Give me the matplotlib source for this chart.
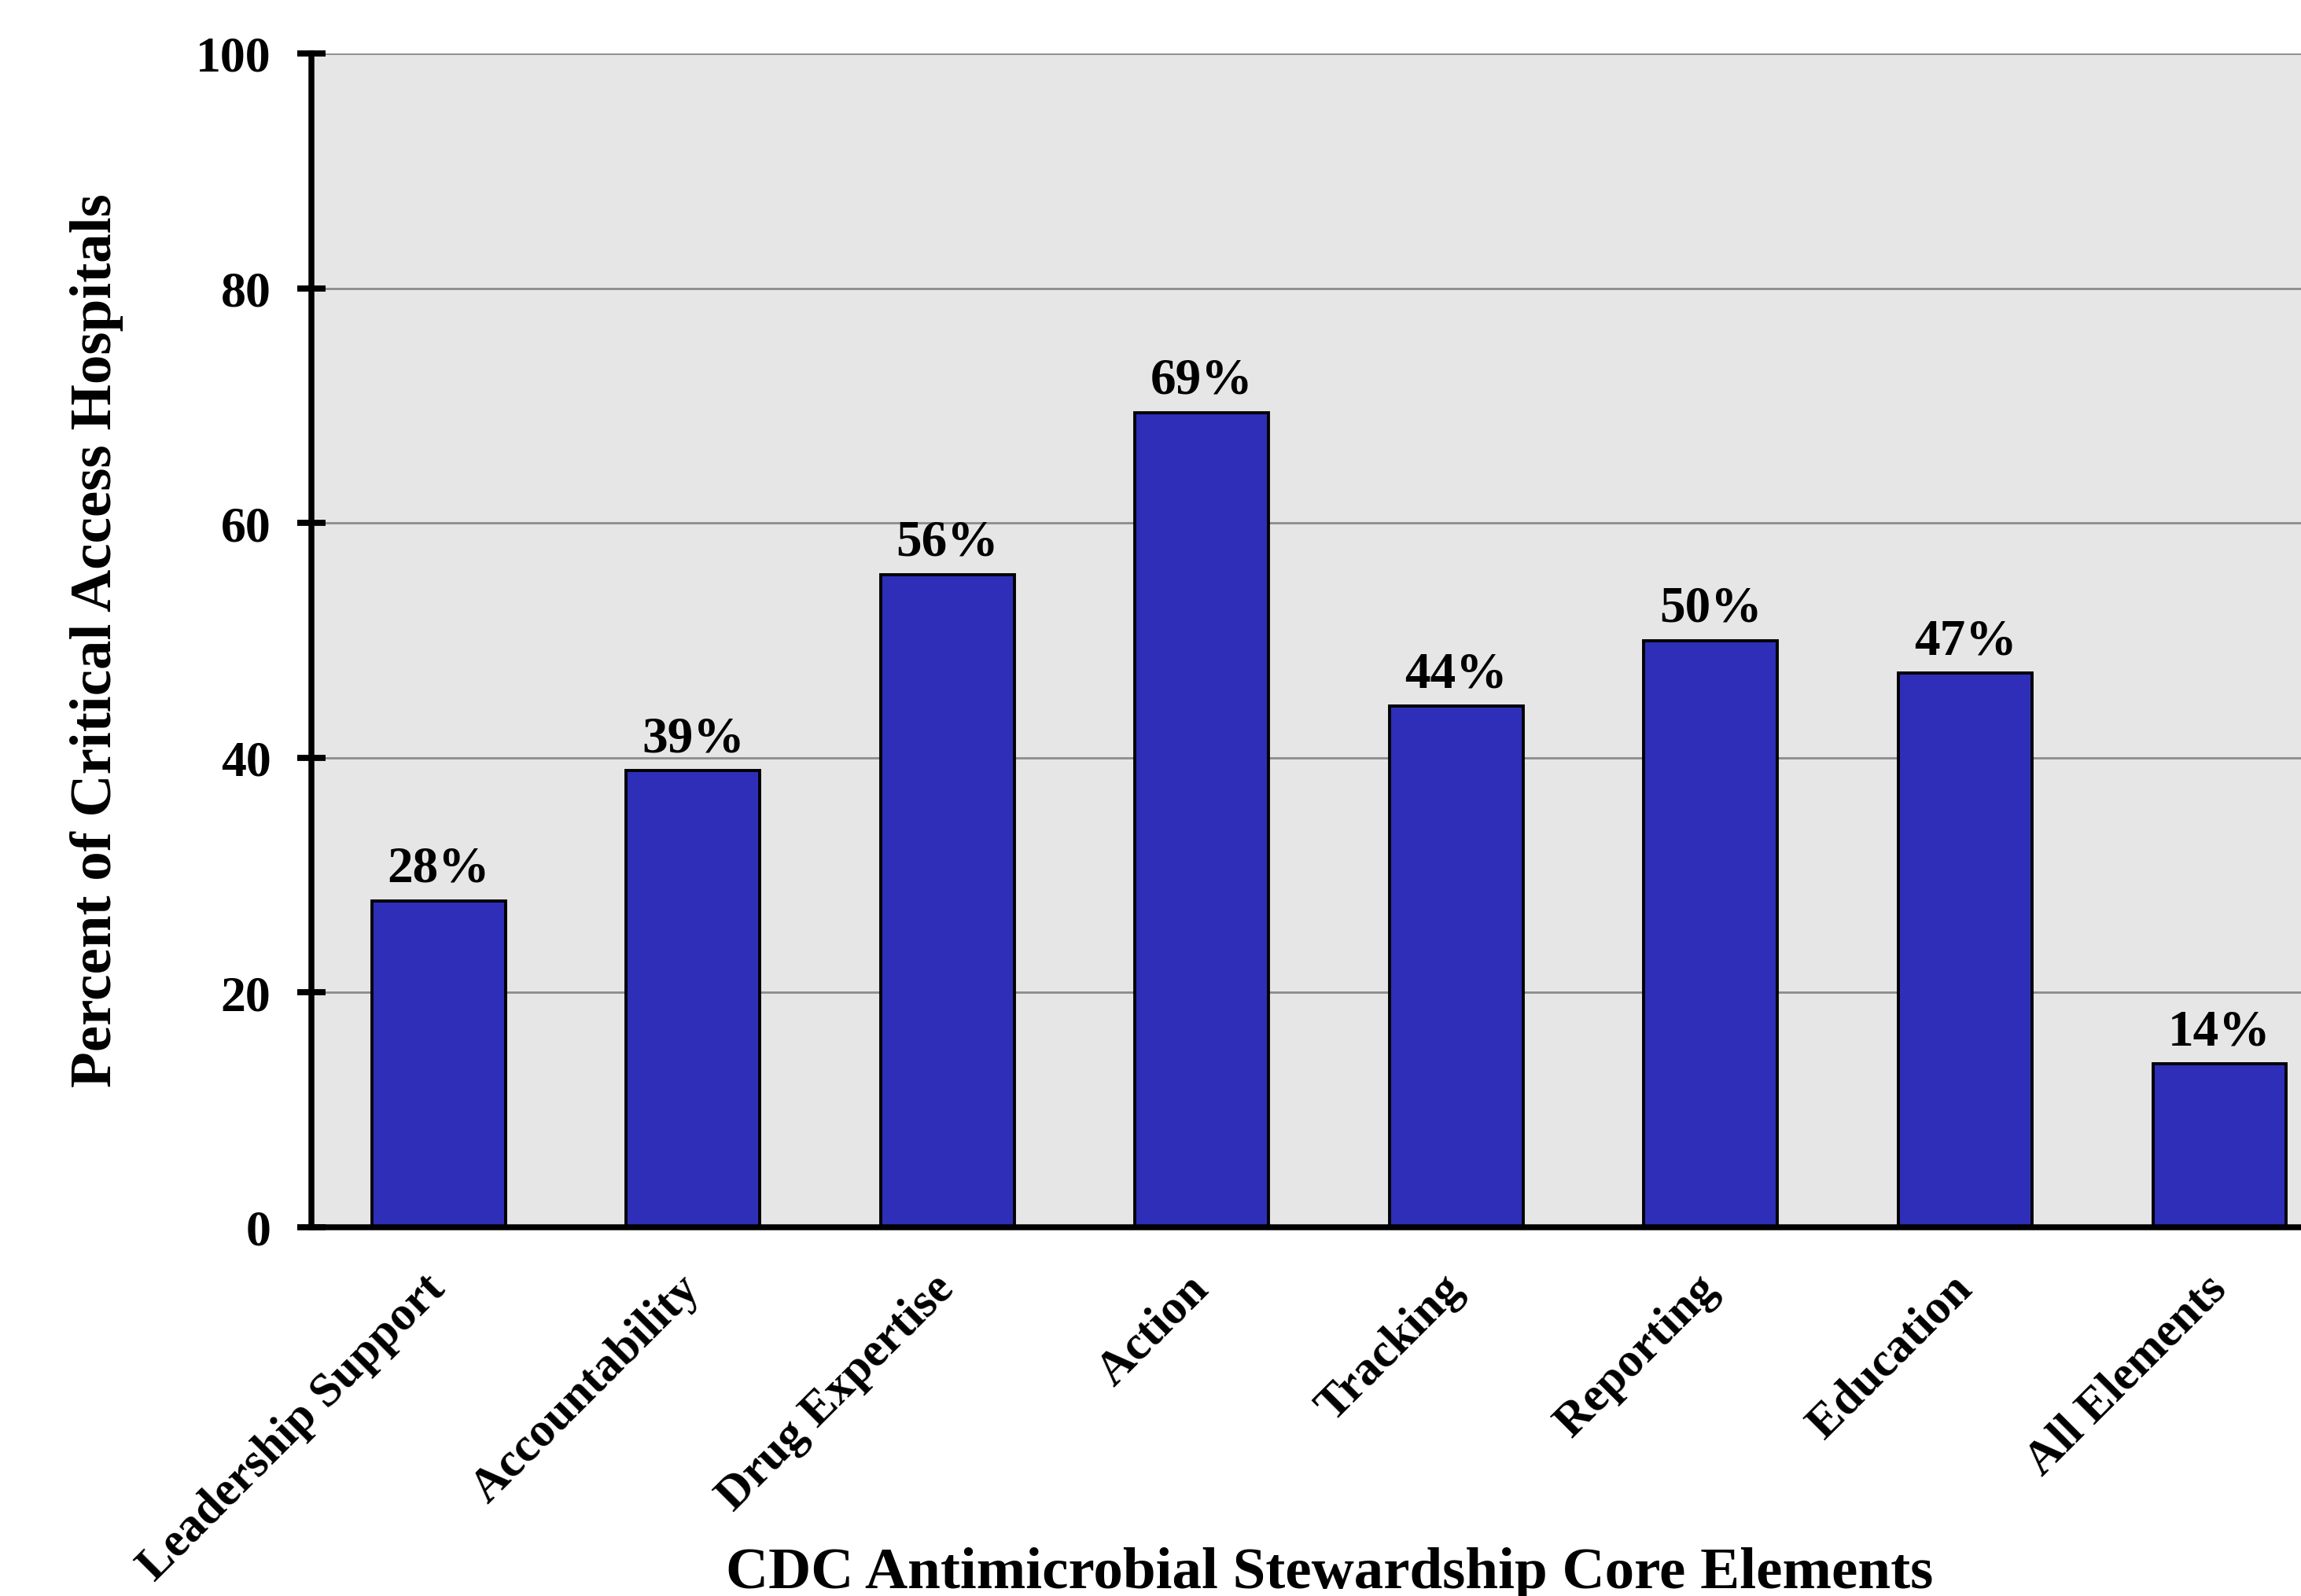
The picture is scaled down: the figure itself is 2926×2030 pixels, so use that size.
import matplotlib
matplotlib.use("Agg")
import matplotlib.pyplot as plt

categories = ["Leadership Support", "Accountability", "Drug Expertise", "Action",
              "Tracking", "Reporting", "Education", "All Elements"]
values = [27.8, 38.9, 55.6, 69.4, 44.4, 50.0, 47.2, 13.9]
labels = ["28%", "39%", "56%", "69%", "44%", "50%", "47%", "14%"]
yticks = [0, 20, 40, 60, 80, 100]

plt.rcParams['font.family'] = ['Liberation Serif', 'DejaVu Serif']
plt.rcParams['font.weight'] = 'bold'

W, H, DPI = 2926, 2031, 200
fig = plt.figure(figsize=(W / DPI, H / DPI), dpi=DPI)
ax = fig.add_axes([396 / W, 1 - 1562 / H, 1 - 396 / W, (1562 - 69) / H])
ax.set_facecolor('#E6E6E6')

x = list(range(len(categories)))
ax.bar(x, values, width=0.525, color='#2E2EB8', edgecolor='black', linewidth=1.4, zorder=3)

for xi, v, lab in zip(x, values, labels):
    ax.annotate(lab, (xi, v), xytext=(0, 9), textcoords='offset points',
                ha='center', va='baseline', fontsize=23.5, fontweight='bold', zorder=4)

ax.set_xlim(-0.5, 7.32)
ax.set_ylim(0, 100)
ax.set_yticks(yticks)
ax.set_yticklabels([str(t) for t in yticks], fontsize=23, fontweight='bold')
ax.yaxis.grid(True, color='#8C8C8C', linewidth=1.0, zorder=0)
ax.set_axisbelow(True)

ax.set_xticks(x)
ax.set_xticklabels(categories, rotation=45, ha='right', va='center',
                   rotation_mode='anchor', fontsize=22, fontweight='bold')
ax.tick_params(axis='x', length=0, pad=25)
ax.tick_params(axis='y', direction='inout', length=13, width=2.8, pad=12)

for s in ['top', 'right']:
    ax.spines[s].set_visible(False)
ax.spines['left'].set_linewidth(2.7)
ax.spines['bottom'].set_linewidth(2.7)
ax.spines['left'].set_zorder(5)
ax.spines['bottom'].set_zorder(5)

fig.text(123 / W, 1 - 815 / H, "Percent of Critical Access Hospitals", rotation=90,
         ha='center', va='center', fontsize=27, fontweight='bold')
fig.text(1691 / W, 1 - 2002 / H, "CDC Antimicrobial Stewardship Core Elements",
         ha='center', va='center', fontsize=27, fontweight='bold')

fig.savefig('out.png', dpi=DPI)
